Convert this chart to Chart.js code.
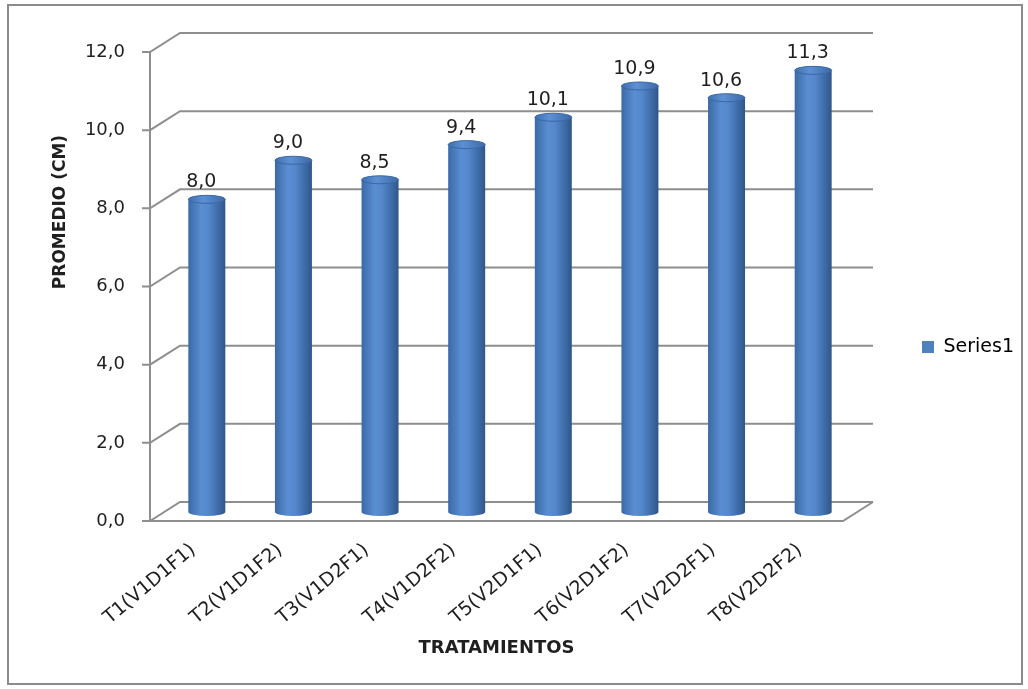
<!DOCTYPE html>
<html>
<head>
<meta charset="utf-8">
<title>Promedio por tratamiento</title>
<script src="https://cdn.jsdelivr.net/npm/chart.js@4.4.0/dist/chart.umd.min.js"></script>
<style>
    html, body { margin: 0; padding: 0; background: #fff; }
    #wrap { position: relative; width: 1028px; height: 689px; }
    #grafico { position: absolute; left: 0; top: 0; }
    #frame { position: absolute; left: 7px; top: 4px; width: 1016px; height: 681px; box-sizing: border-box; border: 2px solid #8b8b8b; pointer-events: none; }
</style>
</head>
<body>
<div id="wrap">
    <canvas id="grafico" width="1028" height="689"></canvas>
    <div id="frame"></div>
</div>
<script>
let categorie = ["T1(V1D1F1)", "T2(V1D1F2)", "T3(V1D2F1)", "T4(V1D2F2)", "T5(V2D1F1)", "T6(V2D1F2)", "T7(V2D2F1)", "T8(V2D2F2)"];
let valori = [8.0, 9.0, 8.5, 9.4, 10.1, 10.9, 10.6, 11.3];
let tickY = [0, 2, 4, 6, 8, 10, 12];
let nomeSerie = "Series1";
let titoloY = "PROMEDIO (CM)";
let titoloX = "TRATAMIENTOS";

let font = "DejaVu Sans";
let coloreTesto = "#1f1f1f";
let coloreLinee = "#8e8e8e";
let coloreSerie = "#4f81bd";
let dxParete = 30, dyParete = -19;   // profondita' della parete di fondo
let dxBarre = 13.5, dyBarre = -9;    // le barre stanno a meta' profondita'
let percBarra = 0.427;
let ryEllisse = 4;

function numero(v)
{
    return v.toFixed(1).replace(".", ",");
}

function gradienteCorpo(ctx, x, w)
{
    let g = ctx.createLinearGradient(x - w / 2, 0, x + w / 2, 0);
    g.addColorStop(0, "#3a69a6");
    g.addColorStop(0.35, "#5a8ed2");
    g.addColorStop(0.55, "#5487cb");
    g.addColorStop(0.85, "#3b67a2");
    g.addColorStop(1, "#2f5689");
    return g;
}

function gradienteCima(ctx, x, w)
{
    let g = ctx.createLinearGradient(x - w / 2, 0, x + w / 2, 0);
    g.addColorStop(0, "#3f6eae");
    g.addColorStop(0.4, "#5d90d4");
    g.addColorStop(1, "#3e6aa6");
    return g;
}

let cornice3d = {
    id: "cornice3d",
    beforeDatasetsDraw(chart)
    {
        let ctx = chart.ctx;
        let a = chart.chartArea;
        let sy = chart.scales.y;
        ctx.save();
        ctx.strokeStyle = coloreLinee;
        ctx.lineWidth = 2;
        ctx.beginPath();
        for (let v of tickY)
        {
            let py = sy.getPixelForValue(v);
            ctx.moveTo(a.left - 8, py);
            ctx.lineTo(a.left, py);
            ctx.lineTo(a.left + dxParete, py + dyParete);
            ctx.lineTo(a.right + dxParete, py + dyParete);
        }
        let y0 = sy.getPixelForValue(0);
        let yMax = sy.getPixelForValue(tickY[tickY.length - 1]);
        ctx.moveTo(a.left, yMax);
        ctx.lineTo(a.left, y0);
        ctx.lineTo(a.right, y0);
        ctx.lineTo(a.right + dxParete, y0 + dyParete);
        ctx.stroke();
        ctx.restore();

        ctx.save();
        ctx.translate(dxBarre, dyBarre);
    },
    afterDatasetsDraw(chart)
    {
        let ctx = chart.ctx;
        let meta = chart.getDatasetMeta(0);
        meta.data.forEach(function (el, i)
        {
            let w = el.width;
            // fondo del cilindro
            ctx.beginPath();
            ctx.ellipse(el.x, el.base, w / 2, ryEllisse, 0, 0, Math.PI);
            ctx.fillStyle = gradienteCorpo(ctx, el.x, w);
            ctx.fill();
            // coperchio
            ctx.beginPath();
            ctx.ellipse(el.x, el.y, w / 2, ryEllisse, 0, 0, Math.PI * 2);
            ctx.fillStyle = gradienteCima(ctx, el.x, w);
            ctx.fill();
            ctx.strokeStyle = "#3b68a4";
            ctx.lineWidth = 1;
            ctx.stroke();
            // etichetta del valore
            ctx.fillStyle = coloreTesto;
            ctx.font = "19px '" + font + "'";
            ctx.textAlign = "center";
            ctx.textBaseline = "alphabetic";
            ctx.fillText(numero(valori[i]), el.x - 5.5, el.y - 12);
        });
        ctx.restore();
    },
    afterDraw(chart)
    {
        let ctx = chart.ctx;
        ctx.save();
        ctx.translate(61, 212);
        ctx.rotate(-Math.PI / 2);
        ctx.fillStyle = coloreTesto;
        ctx.font = "bold 17px '" + font + "'";
        ctx.textAlign = "center";
        ctx.textBaseline = "middle";
        ctx.fillText(titoloY, 0, 0);
        ctx.restore();
    }
};

let grafico = new Chart(document.getElementById("grafico"), {
    type: "bar",
    data: {
        labels: categorie,
        datasets: [{
            label: nomeSerie,
            data: valori,
            backgroundColor: function (c)
            {
                let sx = c.chart.scales.x;
                if (!sx || c.dataIndex === undefined) return coloreSerie;
                let x = sx.getPixelForValue(c.dataIndex);
                let w = sx.width / categorie.length * percBarra;
                return gradienteCorpo(c.chart.ctx, x, w);
            },
            borderWidth: 0,
            barPercentage: percBarra,
            categoryPercentage: 1
        }]
    },
    options: {
        responsive: false,
        animation: false,
        devicePixelRatio: 1,
        layout: { padding: { top: 52, left: 0, right: 4, bottom: 47 } },
        plugins: {
            legend: {
                position: "right",
                labels: {
                    boxWidth: 12,
                    boxHeight: 12,
                    padding: 79,
                    color: coloreTesto,
                    font: { family: font, size: 19 },
                    generateLabels: function ()
                    {
                        return [{ text: nomeSerie, fillStyle: coloreSerie, strokeStyle: coloreSerie, lineWidth: 0, hidden: false, datasetIndex: 0 }];
                    }
                }
            },
            tooltip: { enabled: false }
        },
        scales: {
            x: {
                grid: { display: false, drawTicks: false },
                border: { display: false },
                ticks: {
                    autoSkip: false,
                    minRotation: 40,
                    maxRotation: 40,
                    padding: 18,
                    color: coloreTesto,
                    font: { family: font, size: 19 }
                },
                title: {
                    display: true,
                    text: titoloX,
                    color: coloreTesto,
                    font: { family: font, size: 18, weight: "bold" },
                    padding: { top: 0, bottom: -17 }
                },
                afterFit: function (s) { s.height = 121; }
            },
            y: {
                min: 0,
                max: 12,
                grid: { display: false, drawTicks: true, tickLength: 8 },
                border: { display: false },
                afterBuildTicks: function (s) { s.ticks = tickY.map(v => ({ value: v })); },
                ticks: {
                    padding: 17,
                    color: coloreTesto,
                    font: { family: font, size: 18 },
                    callback: function (v) { return numero(v); }
                },
                afterFit: function (s) { s.width = 150; }
            }
        }
    },
    plugins: [cornice3d]
});
</script>
</body>
</html>
